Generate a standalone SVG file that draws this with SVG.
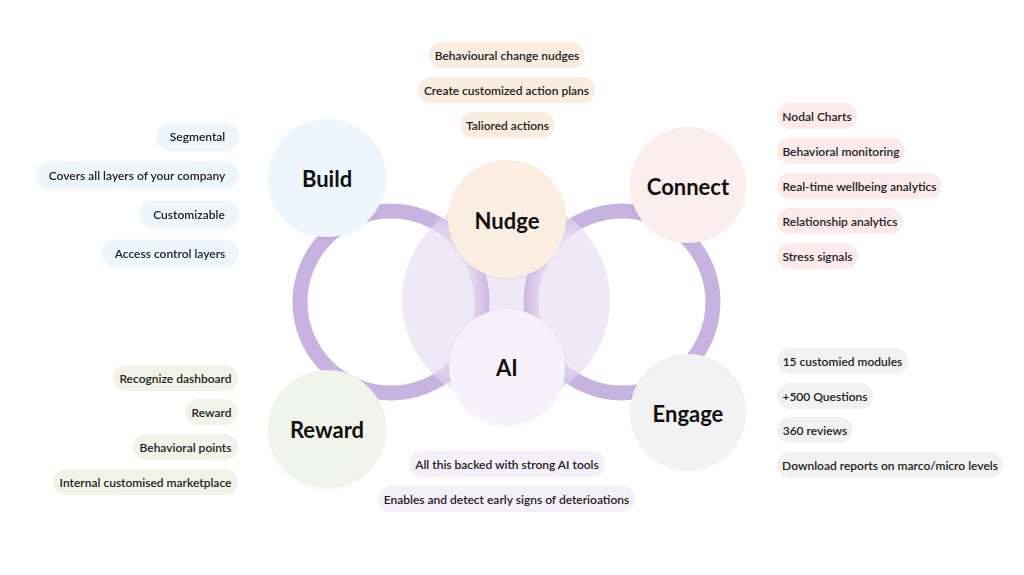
<svg xmlns="http://www.w3.org/2000/svg" width="1024" height="575" viewBox="0 0 1024 575">
<style>
.pill text{font-family:Lato,"Liberation Sans",sans-serif;font-size:12px;font-weight:600;fill:#222;text-anchor:middle;dominant-baseline:central}
.lbl{font-family:Lato,"Liberation Sans",sans-serif;font-size:22px;font-weight:700;fill:#111;text-anchor:middle;dominant-baseline:central}
.ring{fill:none;stroke:#c8b2e0;stroke-width:15}
.blue rect{fill:#edf5fd}
.peach rect{fill:#fbece0}
.pink rect{fill:#fdeaea}
.green rect{fill:#f1f3e8}
.gray rect{fill:#f1f1f1}
.lav rect{fill:#f4eff9}
</style>
<defs>
<filter id="sh" x="-20%" y="-40%" width="140%" height="180%">
<feDropShadow dx="0" dy="1" stdDeviation="1.5" flood-color="#000" flood-opacity="0.08"/>
</filter>
<filter id="csh" x="-20%" y="-20%" width="140%" height="140%">
<feDropShadow dx="0" dy="1" stdDeviation="1.5" flood-color="#000" flood-opacity="0.06"/>
</filter>
<clipPath id="cc"><circle cx="506" cy="300" r="104"/></clipPath>
<radialGradient id="fade">
<stop offset="0" stop-color="#efe8f6" stop-opacity="1"/>
<stop offset="0.4" stop-color="#efe8f6" stop-opacity="1"/>
<stop offset="0.92" stop-color="#efe8f6" stop-opacity="0"/>
</radialGradient>
</defs>
<rect width="1024" height="575" fill="#fff"/>

<g id="connectors">
<circle class="ring" cx="391" cy="302" r="91"/>
<circle class="ring" cx="622" cy="302" r="91"/>
<circle cx="506" cy="300" r="104" fill="#efe8f6"/>
<g clip-path="url(#cc)">
<circle class="ring" cx="391" cy="302" r="91"/>
<circle class="ring" cx="622" cy="302" r="91"/>
<ellipse cx="444" cy="300" rx="52" ry="112" fill="url(#fade)"/>
<ellipse cx="569" cy="300" rx="52" ry="112" fill="url(#fade)"/>
</g>
</g>

<g id="node-build">
<circle cx="327" cy="178" r="59" fill="#eef6fd" filter="url(#csh)"/>
<text class="lbl" x="327" y="178">Build</text>
</g>
<g id="node-nudge">
<circle cx="507" cy="219" r="59" fill="#fbede0" filter="url(#csh)"/>
<text class="lbl" x="507" y="220">Nudge</text>
</g>
<g id="node-connect">
<circle cx="688" cy="185" r="58" fill="#fdeeee" filter="url(#csh)"/>
<text class="lbl" x="688" y="186">Connect</text>
</g>
<g id="node-ai">
<circle cx="507" cy="367" r="58" fill="#f6f1fa" filter="url(#csh)"/>
<text class="lbl" x="507" y="367">AI</text>
</g>
<g id="node-reward">
<circle cx="327" cy="429" r="59" fill="#f1f4ea" filter="url(#csh)"/>
<text class="lbl" x="327" y="429">Reward</text>
</g>
<g id="node-engage">
<circle cx="688" cy="412" r="58" fill="#f2f2f2" filter="url(#csh)"/>
<text class="lbl" x="688" y="413">Engage</text>
</g>

<g id="pills-build" class="blue">
<g class="pill" filter="url(#sh)"><rect x="157" y="123" width="81" height="26" rx="13"/><text x="197.5" y="136">Segmental</text></g>
<g class="pill" filter="url(#sh)"><rect x="36" y="162" width="202" height="26" rx="13"/><text x="137" y="175">Covers all layers of your company</text></g>
<g class="pill" filter="url(#sh)"><rect x="140" y="201" width="98" height="26" rx="13"/><text x="189" y="214">Customizable</text></g>
<g class="pill" filter="url(#sh)"><rect x="102" y="240" width="136" height="26" rx="13"/><text x="170" y="253">Access control layers</text></g>
</g>

<g id="pills-nudge" class="peach">
<g class="pill"><rect x="429" y="42" width="156" height="26" rx="13"/><text x="507" y="55">Behavioural change nudges</text></g>
<g class="pill"><rect x="418" y="77" width="177" height="26" rx="13"/><text x="506.5" y="90">Create customized action plans</text></g>
<g class="pill"><rect x="460" y="112" width="95" height="26" rx="13"/><text x="507.5" y="125">Taliored actions</text></g>
</g>

<g id="pills-connect" class="pink">
<g class="pill"><rect x="777" y="103" width="80" height="26" rx="13"/><text x="817" y="116">Nodal Charts</text></g>
<g class="pill"><rect x="777" y="138" width="128" height="26" rx="13"/><text x="841" y="151">Behavioral monitoring</text></g>
<g class="pill"><rect x="777" y="173" width="165" height="26" rx="13"/><text x="859.5" y="186">Real-time wellbeing analytics</text></g>
<g class="pill"><rect x="777" y="208" width="126" height="26" rx="13"/><text x="840" y="221">Relationship analytics</text></g>
<g class="pill"><rect x="777" y="243" width="81" height="26" rx="13"/><text x="817.5" y="256">Stress signals</text></g>
</g>

<g id="pills-reward" class="green">
<g class="pill"><rect x="113" y="365" width="125" height="26" rx="13"/><text x="175.5" y="378">Recognize dashboard</text></g>
<g class="pill"><rect x="185" y="399" width="53" height="26" rx="13"/><text x="211.5" y="412">Reward</text></g>
<g class="pill"><rect x="133" y="434" width="105" height="26" rx="13"/><text x="185.5" y="447">Behavioral points</text></g>
<g class="pill"><rect x="53" y="469" width="185" height="26" rx="13"/><text x="145.5" y="482">Internal customised marketplace</text></g>
</g>

<g id="pills-engage" class="gray">
<g class="pill"><rect x="777" y="348" width="131" height="26" rx="13"/><text x="842.5" y="361">15 customied modules</text></g>
<g class="pill"><rect x="777" y="383" width="96" height="26" rx="13"/><text x="825" y="396">+500 Questions</text></g>
<g class="pill"><rect x="777" y="417" width="76" height="26" rx="13"/><text x="815" y="430">360 reviews</text></g>
<g class="pill"><rect x="777" y="452" width="226" height="26" rx="13"/><text x="890" y="465">Download reports on marco/micro levels</text></g>
</g>

<g id="pills-ai" class="lav">
<g class="pill"><rect x="409" y="451" width="196" height="26" rx="13"/><text x="507" y="464">All this backed with strong AI tools</text></g>
<g class="pill"><rect x="378" y="486" width="257" height="26" rx="13"/><text x="506.5" y="499">Enables and detect early signs of deterioations</text></g>
</g>
</svg>
